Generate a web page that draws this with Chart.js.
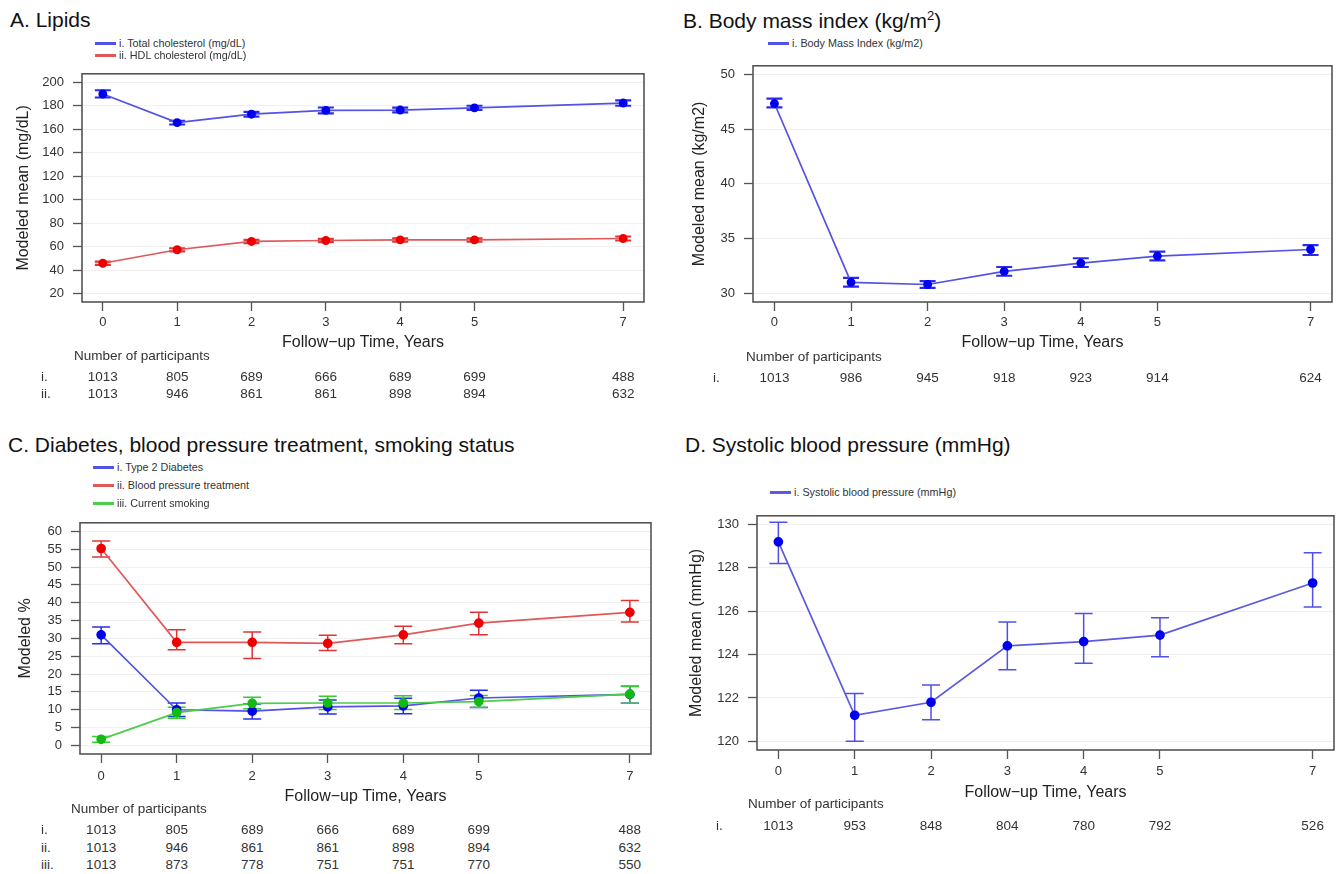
<!DOCTYPE html>
<html>
<head>
<meta charset="utf-8">
<script src="https://cdn.jsdelivr.net/npm/chart.js@4/dist/chart.umd.min.js"></script>
<style>
  body { margin: 0; background: #fff; width: 1341px; height: 874px; overflow: hidden; position: relative;
         font-family: 'Liberation Sans', Arial, sans-serif; color: #222; }
  canvas { position: absolute; }
  .t { position: absolute; white-space: nowrap; }
  .title { font-size: 21px; color: #111; }
  .leg { font-size: 10.8px; color: #333; }
  .tab { font-size: 13.5px; color: #333; }
  .swatch { position: absolute; height: 2.5px; }
</style>
</head>
<body>
<script>
const years = [0, 1, 2, 3, 4, 5, 7];

// A. Lipids
const totalChol   = [190, 165.6, 172.8, 176, 176.3, 178.2, 182.3];
const totalCholLo = [187, 164, 170.8, 173.5, 174.3, 176.4, 180];
const totalCholHi = [193.2, 167.2, 174.8, 178.5, 178.3, 180, 184.6];
const hdlChol     = [45.8, 57.3, 64.4, 65.2, 65.7, 65.7, 66.9];
const hdlCholLo   = [44.4, 56, 63, 63.8, 64.3, 64.3, 65.2];
const hdlCholHi   = [47.2, 58.6, 65.8, 66.6, 67.1, 67.1, 68.6];
const lipidTicks  = [20, 40, 60, 80, 100, 120, 140, 160, 180, 200];
const lipidN1 = [1013, 805, 689, 666, 689, 699, 488];
const lipidN2 = [1013, 946, 861, 861, 898, 894, 632];

// B. Body mass index
const bmi   = [47.35, 31.0, 30.8, 32.0, 32.75, 33.4, 34.0];
const bmiLo = [47.0, 30.6, 30.5, 31.6, 32.4, 33.0, 33.5];
const bmiHi = [47.8, 31.4, 31.1, 32.4, 33.2, 33.8, 34.4];
const bmiTicks = [30, 35, 40, 45, 50];
const bmiN = [1013, 986, 945, 918, 923, 914, 624];

// C. Diabetes, BP treatment, smoking
const diabetes   = [31.0, 10.0, 9.6, 10.8, 11.1, 13.3, 14.3];
const diabetesLo = [28.5, 8.1, 7.4, 8.8, 8.9, 10.6, 11.8];
const diabetesHi = [33.2, 11.9, 11.6, 12.7, 13.2, 15.5, 16.6];
const bpTreat    = [55.2, 28.9, 28.9, 28.6, 31.0, 34.3, 37.3];
const bpTreatLo  = [52.8, 26.8, 24.4, 26.6, 28.5, 31.0, 34.6];
const bpTreatHi  = [57.3, 32.4, 31.8, 30.9, 33.4, 37.3, 40.6];
const smoking    = [1.7, 9.2, 11.8, 11.9, 11.9, 12.3, 14.4];
const smokingLo  = [0.9, 7.6, 10.3, 10.1, 10.1, 10.7, 11.8];
const smokingHi  = [2.5, 10.7, 13.5, 13.8, 13.9, 14.0, 16.5];
const pctTicks = [0, 5, 10, 15, 20, 25, 30, 35, 40, 45, 50, 55, 60];
const condN1 = [1013, 805, 689, 666, 689, 699, 488];
const condN2 = [1013, 946, 861, 861, 898, 894, 632];
const condN3 = [1013, 873, 778, 751, 751, 770, 550];

// D. Systolic blood pressure
const sbp   = [129.2, 121.2, 121.8, 124.4, 124.6, 124.9, 127.3];
const sbpLo = [128.2, 120.0, 121.0, 123.3, 123.6, 123.9, 126.2];
const sbpHi = [130.1, 122.2, 122.6, 125.5, 125.9, 125.7, 128.7];
const sbpTicks = [120, 122, 124, 126, 128, 130];
const sbpN = [1013, 953, 848, 804, 780, 792, 526];

const family = "'Liberation Sans', Arial, sans-serif";
Chart.defaults.font.family = family;

const blue  = { line: '#5252e4', point: '#0000ee', bar: '#2b2bee' };
const red   = { line: '#e05858', point: '#ee0000', bar: '#e03434' };
const green = { line: '#4ccc4c', point: '#12bb12', bar: '#33cc33' };

function addText(html, x, y, cls, center) {
  const d = document.createElement('div');
  d.className = 't ' + cls;
  d.innerHTML = html;
  d.style.left = x + 'px';
  d.style.top = y + 'px';
  d.style.transform = center ? 'translate(-50%,-50%)' : 'translate(0,-50%)';
  document.body.appendChild(d);
}

// error bars, drawn under the lines and points
const errorBars = {
  id: 'errorBars',
  beforeDatasetsDraw(chart, args, opts) {
    const { ctx, scales: { x, y } } = chart;
    chart.data.datasets.forEach(ds => {
      ctx.save();
      ctx.strokeStyle = ds.barColor;
      ctx.lineWidth = opts.width;
      ds.data.forEach((p, i) => {
        const px = x.getPixelForValue(p.x);
        const y1 = y.getPixelForValue(ds.lo[i]);
        const y2 = y.getPixelForValue(ds.hi[i]);
        ctx.beginPath();
        ctx.moveTo(px, y1); ctx.lineTo(px, y2);
        ctx.moveTo(px - opts.cap, y1); ctx.lineTo(px + opts.cap, y1);
        ctx.moveTo(px - opts.cap, y2); ctx.lineTo(px + opts.cap, y2);
        ctx.stroke();
      });
      ctx.restore();
    });
  }
};

// box round the plot area
const frame = {
  id: 'frame',
  afterDraw(chart) {
    const { ctx, chartArea: a } = chart;
    ctx.save();
    ctx.strokeStyle = '#555';
    ctx.lineWidth = 1.6;
    ctx.strokeRect(a.left, a.top, a.right - a.left, a.bottom - a.top);
    ctx.restore();
  }
};

function panel(p) {
  const pad = 8, xh = 56;
  const cv = document.createElement('canvas');
  cv.width = p.width;
  cv.height = pad + (p.box[3] - p.box[1]) + xh;
  cv.style.left = p.left + 'px';
  cv.style.top = (p.box[1] - pad) + 'px';
  document.body.appendChild(cv);

  const chart = new Chart(cv, {
    type: 'line',
    data: {
      datasets: p.series.map((s, k) => ({
        label: s.label,
        data: years.map((x, i) => ({ x: x, y: s.values[i] })),
        lo: s.lo, hi: s.hi,
        borderColor: s.color.line,
        borderWidth: 1.7,
        pointBackgroundColor: s.color.point,
        pointBorderColor: s.color.point,
        pointRadius: p.radius,
        barColor: s.color.bar,
        tension: 0,
        order: p.series.length - k,
        clip: false
      }))
    },
    options: {
      responsive: false,
      animation: false,
      events: [],
      layout: { padding: { left: pad, right: p.left + p.width - p.box[2], top: pad, bottom: 0 } },
      plugins: {
        legend: { display: false },
        tooltip: { enabled: false },
        errorBars: { cap: p.cap, width: p.barWidth }
      },
      scales: {
        x: {
          type: 'linear', min: -0.28, max: 7.28,
          afterBuildTicks: s => { s.ticks = years.map(v => ({ value: v })); },
          afterFit: s => { s.height = xh; },
          grid: { drawOnChartArea: false, tickLength: 9, tickColor: '#555', tickWidth: 1.3 },
          border: { display: false },
          ticks: { color: '#333', font: { size: 13 }, padding: p.xTickPad, maxRotation: 0, autoSkip: false },
          title: { display: true, text: 'Follow\u2212up Time, Years', color: '#222', font: { size: 16 },
                   padding: { top: 0, bottom: p.xTitlePad } }
        },
        y: {
          min: p.yMin, max: p.yMax,
          afterBuildTicks: s => { s.ticks = p.yTicks.map(v => ({ value: v })); },
          afterFit: s => { s.width = p.box[0] - p.left - pad; },
          grid: { color: 'rgba(0,0,0,0.06)', tickLength: 9, tickColor: '#555', tickWidth: 1.3 },
          border: { display: false },
          ticks: { color: '#333', font: { size: 13 }, padding: 9, autoSkip: false },
          title: { display: true, text: p.yTitle, color: '#222', font: { size: 16 },
                   padding: { top: p.yTitlePad, bottom: 0 } }
        }
      }
    },
    plugins: [errorBars, frame]
  });

  // title and legend
  addText(p.title, p.titleX, p.titleY, 'title', false);
  p.series.forEach((s, k) => {
    const sw = document.createElement('div');
    sw.className = 'swatch';
    sw.style.background = s.color.line;
    sw.style.left = p.legX + 'px';
    sw.style.width = '21px';
    sw.style.top = (p.legY[k] - 1) + 'px';
    document.body.appendChild(sw);
    addText(s.label, p.legX + 24, p.legY[k], 'leg', false);
  });

  // number of participants table, columns under the x ticks
  addText('Number of participants', p.tableX, p.tableY, 'tab', false);
  p.series.forEach((s, k) => {
    const ry = p.rowY[k];
    addText(s.roman, p.rowLabelX, ry, 'tab', false);
    years.forEach((yr, i) => {
      addText(String(s.n[i]), p.left + chart.scales.x.getPixelForValue(yr), ry, 'tab', true);
    });
  });
}

panel({
  left: 0, width: 670, box: [82, 65, 644, 302],
  yMin: 12.8, yMax: 207.2, yTicks: lipidTicks, yTitle: 'Modeled mean (mg/dL)', yTitlePad: 6,
  xTickPad: 3.2, xTitlePad: 5.4, cap: 8, barWidth: 2.2, radius: 3.6,
  title: 'A. Lipids', titleX: 10, titleY: 20,
  legX: 95, legY: [43, 55],
  tableX: 74, tableY: 355, rowLabelX: 41, rowY: [376, 393],
  series: [
    { label: 'i. Total cholesterol (mg/dL)', roman: 'i.', values: totalChol, lo: totalCholLo, hi: totalCholHi, color: blue, n: lipidN1 },
    { label: 'ii. HDL cholesterol (mg/dL)', roman: 'ii.', values: hdlChol, lo: hdlCholLo, hi: hdlCholHi, color: red, n: lipidN2 }
  ]
});

panel({
  left: 670, width: 671, box: [753, 57, 1332, 302],
  yMin: 29.2, yMax: 50.8, yTicks: bmiTicks, yTitle: 'Modeled mean (kg/m2)', yTitlePad: 12,
  xTickPad: 3.2, xTitlePad: 5.4, cap: 8, barWidth: 2.2, radius: 3.6,
  title: 'B. Body mass index (kg/m<sup style="font-size:13px">2</sup>)', titleX: 683, titleY: 20,
  legX: 768, legY: [43],
  tableX: 746, tableY: 356, rowLabelX: 713, rowY: [377],
  series: [
    { label: 'i. Body Mass Index (kg/m2)', roman: 'i.', values: bmi, lo: bmiLo, hi: bmiHi, color: blue, n: bmiN }
  ]
});

panel({
  left: 0, width: 670, box: [80, 514, 651, 754],
  yMin: -2.4, yMax: 62.4, yTicks: pctTicks, yTitle: 'Modeled %', yTitlePad: 8,
  xTickPad: 6, xTitlePad: 3.4, cap: 9, barWidth: 1.5, radius: 4,
  title: 'C. Diabetes, blood pressure treatment, smoking status', titleX: 8, titleY: 445,
  legX: 93, legY: [467, 485, 503],
  tableX: 71, tableY: 808, rowLabelX: 41, rowY: [829, 847, 864],
  series: [
    { label: 'i. Type 2 Diabetes', roman: 'i.', values: diabetes, lo: diabetesLo, hi: diabetesHi, color: blue, n: condN1 },
    { label: 'ii. Blood pressure treatment', roman: 'ii.', values: bpTreat, lo: bpTreatLo, hi: bpTreatHi, color: red, n: condN2 },
    { label: 'iii. Current smoking', roman: 'iii.', values: smoking, lo: smokingLo, hi: smokingHi, color: green, n: condN3 }
  ]
});

panel({
  left: 670, width: 671, box: [757, 507, 1334, 750],
  yMin: 119.6, yMax: 130.4, yTicks: sbpTicks, yTitle: 'Modeled mean (mmHg)', yTitlePad: 9,
  xTickPad: 4.2, xTitlePad: 3.4, cap: 9, barWidth: 1.5, radius: 4,
  title: 'D. Systolic blood pressure (mmHg)', titleX: 685, titleY: 445,
  legX: 770, legY: [492],
  tableX: 748, tableY: 803, rowLabelX: 716, rowY: [825],
  series: [
    { label: 'i. Systolic blood pressure (mmHg)', roman: 'i.', values: sbp, lo: sbpLo, hi: sbpHi,
      color: { line: '#5a5ae2', point: '#0000ee', bar: '#5050e8' }, n: sbpN }
  ]
});
</script>
</body>
</html>
